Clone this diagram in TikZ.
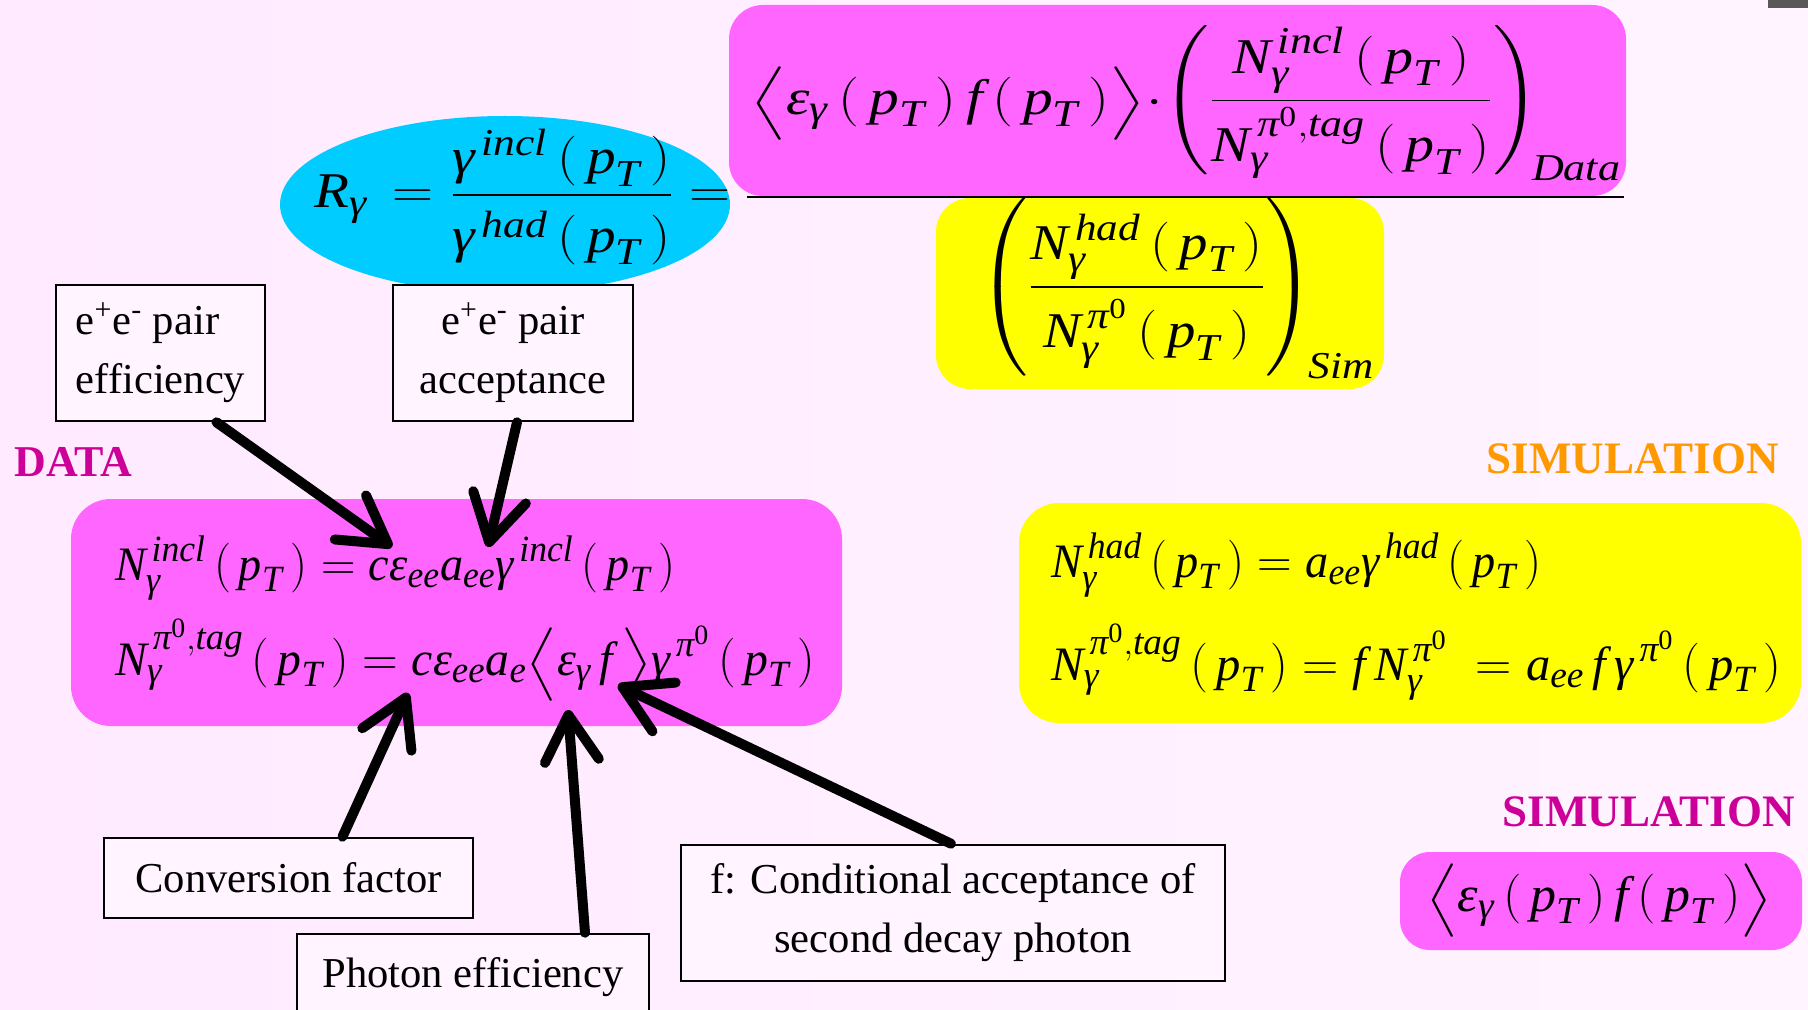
\documentclass[tikz,border=0pt]{standalone}
\usepackage{amsmath}
\usepackage{graphicx}
\usepackage{fontspec}
\setmainfont{Liberation Serif}
\usetikzlibrary{arrows.meta,calc,shapes.geometric}
\DeclareMathSizes{24}{24}{18.5}{14}
\DeclareMathSizes{25}{25}{19}{14.5}
\definecolor{magbox}{HTML}{FF66FF}
\definecolor{cyanbox}{HTML}{00CCFF}
\definecolor{yelbox}{HTML}{FFFF00}
\definecolor{bgl}{HTML}{FFEAFF}
\definecolor{bgr}{HTML}{FFF4FF}
\definecolor{datacol}{HTML}{CC0099}
\definecolor{simcol}{HTML}{FF9900}
\newcommand\I[1]{\text{\itshape #1}}
\newcommand\gam{\I{γ}}
\newcommand\eps{\I{ε}}
\newcommand\pT{\I{p}_{\I{T}}}
\newcommand\PT{\,(\,\pT\,)}
\newcommand\piz{\I{π}^{\text{0}}}
\newcommand\Lang{\mathopen{\scalebox{1}[0.82]{$\Big\langle$}}}
\newcommand\Rang{\mathclose{\scalebox{1}[0.82]{$\Big\rangle$}}}
\newcommand\tallstrut{\vphantom{\rule[-33pt]{0pt}{78pt}}}
\newcommand\fitw[2]{\resizebox{#1}{\height}{#2}}
\tikzset{
  rbox/.style={rounded corners=#1, inner sep=0pt},
  lbl/.style={draw=black, line width=1.3pt, fill=bgr, inner sep=0pt,
     font=\fontsize{21.3}{29.5}\selectfont},
  arr/.style={line width=5pt, line cap=round,
     -{Straight Barb[length=23pt,width=27pt,round]}},
  bigmath/.style={inner sep=0pt, font=\fontsize{25}{30}\selectfont},
  eqmath/.style={inner sep=0pt, font=\fontsize{24}{30}\selectfont},
  head/.style={font=\bfseries\fontsize{#1}{26}\selectfont, inner sep=0pt}
}
\begin{document}
\begin{tikzpicture}[x=0.5pt,y=-0.5pt]
\useasboundingbox (0,0) rectangle (1808,1010);
\clip (0,0) rectangle (1808,1010);
\shade[left color=bgl, right color=bgr] (0,0) rectangle (1808,1010);
\fill[black!65] (1768,0) rectangle (1808,8);

% ---- top formula
\node[ellipse, fill=cyanbox, minimum width=225pt, minimum height=88.5pt, inner sep=0pt] (ell) at (505,204.5) {};
\node[rbox=17pt, fill=magbox, minimum width=448.5pt, minimum height=95.5pt] (topbox) at (1177.5,100.5) {};
\node[rbox=17pt, fill=yelbox, minimum width=224pt, minimum height=95.5pt] (simtop) at (1160,293.5) {};
\coordinate (barl) at (747,197);
\coordinate (barr) at (1624,197);
\draw[line width=1.2pt] (barl) -- (barr);

\node[bigmath, anchor=west] (rgamma) at (314,197)
  {\fitw{208pt}{$\I{R}_{\gam}\,=\dfrac{\gam^{\,\I{incl}}\PT}{\rule{0pt}{25pt}\gam^{\,\I{had}}\PT}=$}};
\node[bigmath, anchor=west] (numa) at (750,104)
  {\fitw{206pt}{$\Lang\eps_{\gam}\PT\,\I{f}\PT\Rang\cdot$}};
\node[bigmath, anchor=west] (numb) at (1163,102)
  {\fitw{229pt}{$\left(\tallstrut\dfrac{\I{N}_{\gam}^{\,\I{incl}}\PT}{\rule{0pt}{27pt}\I{N}_{\gam}^{\,\piz,\I{tag}}\PT}\right)_{\!\I{Data}}$}};
\node[bigmath, anchor=west] (denom) at (978,288)
  {\fitw{198pt}{$\left(\tallstrut\dfrac{\I{N}_{\gam}^{\,\I{had}}\PT}{\rule{0pt}{27pt}\I{N}_{\gam}^{\,\piz}\PT}\right)_{\!\I{Sim}}$}};

% ---- headings
\node[head=22, text=datacol, anchor=base west] (datah) at (14,476) {DATA};
\node[head=22.5, text=simcol, anchor=base east] (simh1) at (1779,473) {SIMULATION};
\node[head=22.5, text=datacol, anchor=base east] (simh2) at (1795,826) {SIMULATION};

% ---- data box
\node[rbox=20pt, fill=magbox, minimum width=385.5pt, minimum height=113.5pt] (databox) at (456.5,612.5) {};
\node[eqmath, anchor=base west] (deq1) at (115,580)
  {\fitw{280pt}{$\I{N}_{\gam}^{\,\I{incl}}\PT=\I{c}\eps_{\I{ee}}\I{a}_{\I{ee}}\gam^{\,\I{incl}}\PT$}};
\node[eqmath, anchor=base west] (deq2) at (115,675)
  {\fitw{350pt}{$\I{N}_{\gam}^{\,\piz,\I{tag}}\PT=\I{c}\eps_{\I{ee}}\I{a}_{\I{e}}\Lang\eps_{\gam}\,\I{f}\,\Rang\gam^{\,\piz}\PT$}};

% ---- simulation box
\node[rbox=20pt, fill=yelbox, minimum width=391pt, minimum height=110pt] (simbox) at (1410,613) {};
\node[eqmath, anchor=base west] (seq1) at (1051,577)
  {\fitw{245pt}{$\I{N}_{\gam}^{\,\I{had}}\PT=\I{a}_{\I{ee}}\gam^{\,\I{had}}\PT$}};
\node[eqmath, anchor=base west] (seq2) at (1051,680)
  {\fitw{365pt}{$\I{N}_{\gam}^{\,\piz,\I{tag}}\PT=\I{f}\,\I{N}_{\gam}^{\,\piz}\;=\I{a}_{\I{ee}}\,\I{f}\,\gam^{\,\piz}\PT$}};

% ---- small simulation box
\node[rbox=15pt, fill=magbox, minimum width=201pt, minimum height=49pt] (effbox) at (1601,901) {};
\node[bigmath] (effeq) at (1599,901)
  {\fitw{173pt}{$\Lang\eps_{\gam}\PT\,\I{f}\PT\Rang$}};

% ---- label boxes
\node[lbl, minimum width=104.5pt, minimum height=68pt, align=left] (pe) at (160.5,353)
  {e\textsuperscript{+}e\textsuperscript{-} pair\\efficiency};
\node[lbl, minimum width=120pt, minimum height=68pt, align=center] (pa) at (513,353)
  {e\textsuperscript{+}e\textsuperscript{-} pair\\acceptance};
\node[lbl, minimum width=184.5pt, minimum height=40pt] (conv) at (288.5,878)
  {Conversion factor};
\node[lbl, minimum width=176pt, minimum height=43pt] (phot) at (473,977)
  {Photon efficiency};
\node[lbl, minimum width=272pt, minimum height=68pt, align=center] (fcond) at (953,913)
  {f: Conditional acceptance of\\second decay photon};

% ---- arrows
\coordinate (t1) at (392,547);
\coordinate (t2) at (488,547);
\coordinate (t3) at (408,693);
\coordinate (t4) at (568,710);
\coordinate (t5) at (618,685);
\draw[arr] ([xshift=28pt]pe.south) -- (t1);
\draw[arr] ([xshift=2pt]pa.south) -- (t2);
\draw[arr] ([xshift=27pt]conv.north) -- (t3);
\draw[arr] ([xshift=56pt]phot.north) -- (t4);
\draw[arr] ([xshift=-1pt]fcond.north) -- (t5);
\end{tikzpicture}
\end{document}
